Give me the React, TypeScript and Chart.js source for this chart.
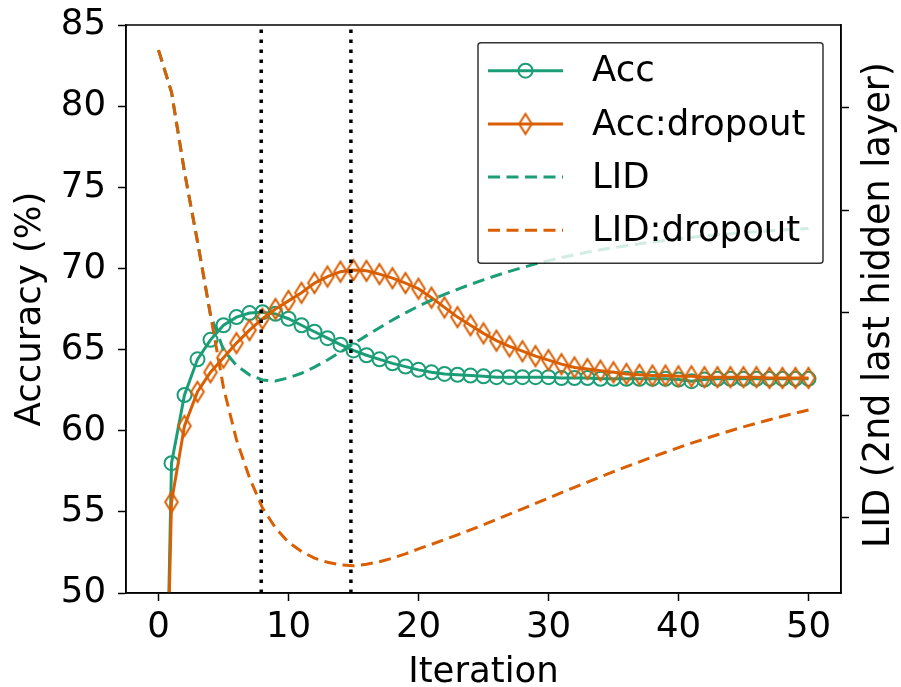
import React, { useEffect, useRef } from 'react';
import { Chart, registerables } from 'chart.js';

Chart.register(...registerables);

// ---------- data ----------
const ITERATIONS = [
  0, 1, 2, 3, 4, 5, 6, 7, 8, 9, 10, 11, 12, 13, 14, 15, 16, 17, 18, 19, 20,
  21, 22, 23, 24, 25, 26, 27, 28, 29, 30, 31, 32, 33, 34, 35, 36, 37, 38, 39, 40,
  41, 42, 43, 44, 45, 46, 47, 48, 49, 50,
];

const ACC = [
  18, 58.0, 62.2, 64.4, 65.6, 66.5, 67.0, 67.25, 67.3, 67.2, 66.9,
  66.5, 66.1, 65.7, 65.3, 64.95, 64.65, 64.4, 64.15, 63.95, 63.75,
  63.6, 63.5, 63.45, 63.4, 63.35, 63.3, 63.3, 63.3, 63.3, 63.3,
  63.25, 63.25, 63.25, 63.2, 63.2, 63.2, 63.2, 63.2, 63.2, 63.15,
  63.05, 63.15, 63.2, 63.2, 63.2, 63.2, 63.2, 63.2, 63.2, 63.2,
];

const ACC_DROPOUT = [
  22, 55.6, 60.3, 62.4, 63.6, 64.5, 65.4, 66.2, 66.9, 67.5, 68.0,
  68.5, 69.1, 69.5, 69.8, 69.9, 69.85, 69.65, 69.4, 69.1, 68.75,
  68.2, 67.6, 67.0, 66.5, 66.0, 65.55, 65.2, 64.9, 64.6, 64.35,
  64.1, 63.9, 63.8, 63.7, 63.6, 63.5, 63.45, 63.4, 63.4, 63.35,
  63.35, 63.3, 63.3, 63.3, 63.3, 63.3, 63.25, 63.25, 63.25, 63.25,
];

const LID = [
  17.13, 16.31, 14.75, 13.39, 11.96, 11.28, 10.97, 10.79, 10.69, 10.67, 10.73,
  10.82, 10.94, 11.08, 11.235, 11.395, 11.555, 11.71, 11.86, 12.0, 12.13,
  12.25, 12.36, 12.46, 12.555, 12.645, 12.73, 12.81, 12.885, 12.955, 13.02,
  13.08, 13.135, 13.185, 13.23, 13.272, 13.312, 13.349, 13.384, 13.416, 13.446,
  13.474, 13.5, 13.524, 13.546, 13.566, 13.584, 13.601, 13.617, 13.632, 13.646,
];

const LID_DROPOUT = [
  17.13, 16.31, 14.75, 13.39, 11.96, 10.54, 9.52, 8.78, 8.19, 7.8, 7.52,
  7.34, 7.21, 7.13, 7.08, 7.06, 7.09, 7.14, 7.21, 7.295, 7.39,
  7.48, 7.572, 7.666, 7.763, 7.863, 7.965, 8.069, 8.174, 8.279, 8.384,
  8.489, 8.593, 8.696, 8.798, 8.898, 8.996, 9.092, 9.186, 9.278, 9.368,
  9.455, 9.539, 9.62, 9.698, 9.773, 9.845, 9.914, 9.98, 10.043, 10.103,
];

const MARKER_ITERATIONS = [7.9, 14.8];

const ACC_TICKS = [50, 55, 60, 65, 70, 75, 80, 85];
const ITER_TICKS = [0, 10, 20, 30, 40, 50];
const LID_TICKS = [8, 10, 12, 14, 16];

const LEGEND_LABELS = ['Acc', 'Acc:dropout', 'LID', 'LID:dropout'];
const X_TITLE = 'Iteration';
const Y_TITLE = 'Accuracy (%)';
const Y2_TITLE = 'LID (2nd last hidden layer)';

// ---------- styles ----------
const TEAL = '#1b9e77';
const ORANGE = '#d95f02';
const FONT = 'DejaVu Sans';
const FS = 35.5;

function makeDiamond(color: string): HTMLCanvasElement {
  const hw = 6.3;
  const hh = 10;
  const lw = 2;
  const c = document.createElement('canvas');
  c.width = 20;
  c.height = 28;
  const ctx = c.getContext('2d')!;
  const cx = c.width / 2;
  const cy = c.height / 2;
  ctx.strokeStyle = color;
  ctx.lineWidth = lw;
  ctx.lineJoin = 'miter';
  ctx.beginPath();
  ctx.moveTo(cx, cy - hh);
  ctx.lineTo(cx + hw, cy);
  ctx.lineTo(cx, cy + hh);
  ctx.lineTo(cx - hw, cy);
  ctx.closePath();
  ctx.stroke();
  return c;
}

const pts = (xs: number[], ys: number[]) => xs.map((x, i) => ({ x, y: ys[i] }));

export default function App() {
  const ref = useRef<HTMLCanvasElement | null>(null);

  useEffect(() => {
    if (!ref.current) return;
    const diamond = makeDiamond(ORANGE);

    const legendStyles = [
      { color: TEAL, dash: [] as number[], marker: 'circle' },
      { color: ORANGE, dash: [] as number[], marker: 'diamond' },
      { color: TEAL, dash: [12, 6.5], marker: '' },
      { color: ORANGE, dash: [12, 6.5], marker: '' },
    ];

    const decor = {
      id: 'decor',
      afterDatasetsDraw(chart: any) {
        const { ctx, chartArea: a } = chart;
        ctx.save();
        ctx.strokeStyle = '#000';
        ctx.lineWidth = 1.5;
        ctx.strokeRect(a.left, a.top, a.right - a.left, a.bottom - a.top);
        ctx.restore();
      },
      afterDraw(chart: any) {
        const { ctx, chartArea: a } = chart;
        // legend
        const bw = 345;
        const bh = 220.6;
        const bx = a.right - 18 - bw;
        const by = a.top + 17.7;
        ctx.save();
        ctx.beginPath();
        const r = 3;
        ctx.moveTo(bx + r, by);
        ctx.lineTo(bx + bw - r, by);
        ctx.quadraticCurveTo(bx + bw, by, bx + bw, by + r);
        ctx.lineTo(bx + bw, by + bh - r);
        ctx.quadraticCurveTo(bx + bw, by + bh, bx + bw - r, by + bh);
        ctx.lineTo(bx + r, by + bh);
        ctx.quadraticCurveTo(bx, by + bh, bx, by + bh - r);
        ctx.lineTo(bx, by + r);
        ctx.quadraticCurveTo(bx, by, bx + r, by);
        ctx.closePath();
        ctx.fillStyle = 'rgba(255,255,255,0.8)';
        ctx.fill();
        ctx.strokeStyle = 'rgba(0,0,0,0.8)';
        ctx.lineWidth = 1.5;
        ctx.stroke();

        const rows = [28, 81.2, 134.4, 187.6];
        LEGEND_LABELS.forEach((label, i) => {
          const st = legendStyles[i];
          const y = by + rows[i];
          const x0 = bx + 10;
          const x1 = bx + 85;
          ctx.strokeStyle = st.color;
          ctx.lineWidth = 3;
          ctx.setLineDash(st.dash);
          ctx.beginPath();
          ctx.moveTo(x0, y);
          ctx.lineTo(x1, y);
          ctx.stroke();
          ctx.setLineDash([]);
          const mx = (x0 + x1) / 2;
          if (st.marker === 'circle') {
            ctx.lineWidth = 2;
            ctx.beginPath();
            ctx.arc(mx, y, 7, 0, Math.PI * 2);
            ctx.stroke();
          } else if (st.marker === 'diamond') {
            ctx.drawImage(diamond, mx - diamond.width / 2, y - diamond.height / 2);
          }
          ctx.fillStyle = '#000';
          ctx.font = `${FS}px "${FONT}"`;
          ctx.textAlign = 'left';
          ctx.textBaseline = 'middle';
          ctx.fillText(label, bx + 114, y + 1.5);
        });

        // right axis title
        ctx.translate(880, 305);
        ctx.rotate(-Math.PI / 2);
        ctx.fillStyle = '#000';
        ctx.font = `36.5px "${FONT}"`;
        ctx.textAlign = 'center';
        ctx.textBaseline = 'middle';
        ctx.fillText(Y2_TITLE, 0, 0);
        ctx.restore();
      },
    };

    const tickGrid = {
      display: true,
      drawOnChartArea: false,
      drawTicks: true,
      tickLength: 8,
      tickWidth: 1.5,
      tickColor: '#000',
    };
    const border = { display: true, color: '#000', width: 1.5 };
    const tickFont = { family: FONT, size: FS };

    const chart = new Chart(ref.current, {
      type: 'line',
      data: {
        datasets: [
          {
            label: LEGEND_LABELS[3],
            data: pts(ITERATIONS, LID_DROPOUT),
            yAxisID: 'yLid',
            borderColor: ORANGE,
            borderWidth: 3,
            borderDash: [12, 6.5],
            pointRadius: 0,
            tension: 0,
            order: 1,
          },
          {
            label: LEGEND_LABELS[2],
            data: pts(ITERATIONS, LID),
            yAxisID: 'yLid',
            borderColor: TEAL,
            borderWidth: 3,
            borderDash: [12, 6.5],
            pointRadius: 0,
            tension: 0,
            order: 2,
          },
          ...MARKER_ITERATIONS.map((m, k) => ({
            label: 'marker' + k,
            data: [
              { x: m, y: ACC_TICKS[0] },
              { x: m, y: ACC_TICKS[ACC_TICKS.length - 1] },
            ],
            yAxisID: 'y',
            borderColor: '#000',
            borderWidth: 3.5,
            borderDash: [3.5, 6.5],
            pointRadius: 0,
            tension: 0,
            order: 3 + k,
          })),
          {
            label: LEGEND_LABELS[1],
            data: pts(ITERATIONS, ACC_DROPOUT),
            yAxisID: 'y',
            borderColor: ORANGE,
            borderWidth: 3,
            pointStyle: diamond as any,
            pointRadius: 10,
            pointBorderColor: ORANGE,
            pointBackgroundColor: 'rgba(0,0,0,0)',
            tension: 0,
            order: 6,
          },
          {
            label: LEGEND_LABELS[0],
            data: pts(ITERATIONS, ACC),
            yAxisID: 'y',
            borderColor: TEAL,
            borderWidth: 3,
            pointStyle: 'circle',
            pointRadius: 7,
            pointBorderWidth: 2,
            pointBorderColor: TEAL,
            pointBackgroundColor: 'rgba(0,0,0,0)',
            tension: 0,
            order: 7,
          },
        ],
      },
      options: {
        responsive: false,
        animation: false,
        devicePixelRatio: 1,
        events: [],
        layout: { padding: { top: 25, left: 0, right: 0, bottom: 0 } },
        plugins: { legend: { display: false }, tooltip: { enabled: false } },
        scales: {
          x: {
            type: 'linear',
            position: 'bottom',
            min: -2.5,
            max: 52.5,
            afterBuildTicks: (s: any) => {
              s.ticks = ITER_TICKS.map((v) => ({ value: v }));
            },
            afterFit: (s: any) => {
              s.height = 94;
              s.paddingLeft = 0;
              s.paddingRight = 0;
            },
            ticks: { font: tickFont, color: '#000', padding: 5, maxRotation: 0, autoSkip: false },
            grid: tickGrid,
            border,
            title: {
              display: true,
              text: X_TITLE,
              color: '#000',
              font: { family: FONT, size: FS, lineHeight: 0.8 },
              padding: 0,
            },
          },
          y: {
            type: 'linear',
            position: 'left',
            min: ACC_TICKS[0],
            max: ACC_TICKS[ACC_TICKS.length - 1],
            afterBuildTicks: (s: any) => {
              s.ticks = ACC_TICKS.map((v) => ({ value: v }));
            },
            afterFit: (s: any) => {
              s.width = 126;
              s.paddingTop = 0;
              s.paddingBottom = 0;
            },
            ticks: { font: tickFont, color: '#000', padding: 12 },
            grid: tickGrid,
            border,
            title: {
              display: true,
              text: Y_TITLE,
              color: '#000',
              font: { family: FONT, size: FS, lineHeight: 1.2 },
              padding: { top: 9, bottom: 0 },
            },
          },
          yLid: {
            type: 'linear',
            position: 'right',
            min: 6.53,
            max: 17.62,
            afterBuildTicks: (s: any) => {
              s.ticks = LID_TICKS.map((v) => ({ value: v }));
            },
            afterFit: (s: any) => {
              s.width = 60;
              s.paddingTop = 0;
              s.paddingBottom = 0;
            },
            ticks: { display: false },
            grid: tickGrid,
            border,
          },
        },
      } as any,
      plugins: [decor],
    });

    return () => chart.destroy();
  }, []);

  return (
    <div style={{ position: 'fixed', left: 0, top: 0, width: 901, height: 687, background: '#fff' }}>
      <canvas ref={ref} width={901} height={687} />
    </div>
  );
}
